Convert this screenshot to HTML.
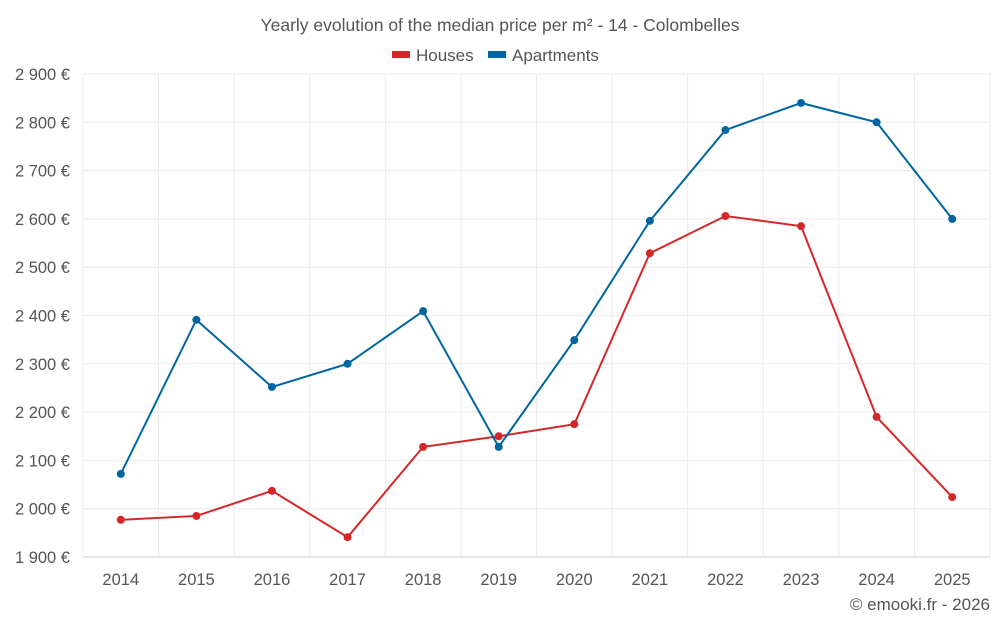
<!DOCTYPE html>
<html><head><meta charset="utf-8"><style>
body{margin:0;background:#fff;font-family:"Liberation Sans",sans-serif}
svg text{font-family:"Liberation Sans",sans-serif}
</style></head><body>
<svg id="c" width="1000" height="625">
<text x="500" y="31" text-anchor="middle" font-size="17.5" fill="#555">Yearly evolution of the median price per m² - 14 - Colombelles</text>
<g>
<rect x="392" y="51" width="18" height="7" fill="#d62728"/>
<text x="416" y="61" font-size="17" fill="#555">Houses</text>
<rect x="488" y="51" width="18" height="7" fill="#0066a1"/>
<text x="512" y="61" font-size="17" fill="#555">Apartments</text>
</g>
<g id="grid"></g><g id="axes"></g><g id="series"></g>
<text x="990" y="610" text-anchor="end" font-size="17" fill="#555">© emooki.fr - 2026</text>
</svg>
<script>
const years=[2014,2015,2016,2017,2018,2019,2020,2021,2022,2023,2024,2025];
const houses=[1977,1985,2037,1941,2128,2150,2175,2529,2606,2585,2190,2024];
const apartments=[2072,2391,2252,2300,2409,2128,2349,2596,2784,2840,2800,2600];
const yTicks=[1900,2000,2100,2200,2300,2400,2500,2600,2700,2800,2900];
const NS="http://www.w3.org/2000/svg";
const L=83,R=990,T=74,B=557,ymin=1900,ymax=2900;
const step=(R-L)/years.length;
const x=i=>L+step*(i+0.5);
const y=v=>B-(v-ymin)/(ymax-ymin)*(B-T);
function mk(t,a,p){const e=document.createElementNS(NS,t);for(const k in a)e.setAttribute(k,a[k]);p.appendChild(e);return e;}
const g=document.getElementById('grid'),ax=document.getElementById('axes'),s=document.getElementById('series');
yTicks.forEach(v=>{
 const l=mk('line',{x1:L,x2:R,y1:y(v),y2:y(v),stroke:v===ymin?'#ccc':'#ebebeb'},g);
 
 
 const t=mk('text',{x:70,y:y(v)+6,'text-anchor':'end','font-size':16.5,fill:'#555'},ax);
 t.textContent=String(v).replace(/(\d)(\d{3})$/,'$1 $2')+' €';
 
 
});
for(let i=0;i<=years.length;i++){
 const l=mk('line',{x1:L+step*i,x2:L+step*i,y1:T,y2:B,stroke:'#ebebeb'},g);
 
 
}
years.forEach((yr,i)=>{
 const t=mk('text',{x:x(i),y:585,'text-anchor':'middle','font-size':16.5,fill:'#555'},ax);
 t.textContent=yr;
 
 
});
function draw(data,color,name){
 const p=mk('polyline',{points:data.map((v,i)=>x(i)+','+y(v)).join(' '),fill:'none',stroke:color,'stroke-width':2},s);
 
 
 data.forEach((v,i)=>{
  const c=mk('circle',{cx:x(i),cy:y(v),r:4,fill:color},s);
  
  
 });
}
draw(houses,'#d62728','houses');
draw(apartments,'#0066a1','apartments');
</script>
</body></html>
